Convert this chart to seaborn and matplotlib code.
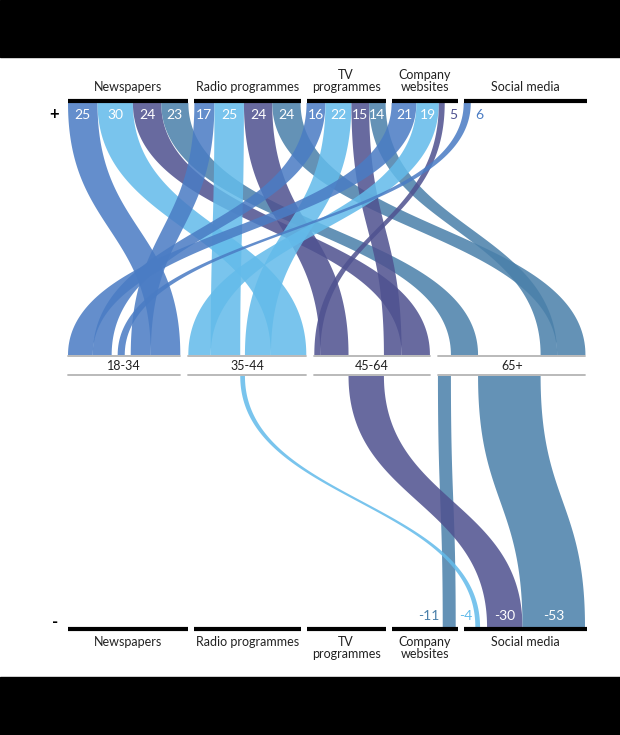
import numpy as np
import matplotlib.pyplot as plt
import seaborn as sns

sns.set_theme(style="white")
plt.rcParams['font.family'] = ['Lato', 'DejaVu Sans']

# Data
media = ['Newspapers', 'Radio programmes', 'TV\nprogrammes', 'Company\nwebsites', 'Social media']
ages = ['18-34', '35-44', '45-64', '65+']
# rows = media, columns = age groups
positive = [[25, 30, 24, 23],
            [17, 25, 24, 24],
            [16, 22, 15, 14],
            [21, 19, 5, 0],
            [6, 0, 0, 0]]
negative = [[0, 0, 0, 0],
            [0, 0, 0, 0],
            [0, 0, 0, 0],
            [0, 0, 0, -11],
            [0, -4, -30, -53]]
age_colors = sns.color_palette(['#4a7cc4', '#63bbea', '#4f5290', '#4a80aa'])

# order of the flows inside each age band (medium index, sign), None = small gap
mid_order = [
    [(3, 1), (2, 1), None, (4, 1), None, (1, 1), (0, 1)],
    [(3, 1), (1, 1), (4, -1), (2, 1), (0, 1)],
    [(3, 1), (1, 1), (4, -1), (2, 1), (0, 1)],
    [(3, -1), (0, 1), (4, -1), (2, 1), (1, 1)],
]

pos = np.array(positive)
neg = -np.array(negative)

# layout (pixel space)
K = 1.18
X0, X1 = 68, 587
Y_TOP, Y_MID_A, Y_MID_B, Y_BOT = 103, 355, 376, 627
COL_GAP, BAND_GAP, IN_GAP = 6, 8, 6

fig = plt.figure(figsize=(6.2, 7.35), dpi=100)
ax = fig.add_axes([0, 0, 1, 1])
ax.set_xlim(0, 620)
ax.set_ylim(735, 0)
ax.axis('off')
ax.axhspan(0, 57, color='black', zorder=0)
ax.axhspan(677, 735, color='black', zorder=0)


def ribbon(xa0, xa1, ya, xb0, xb1, yb, color, z):
    # cubic bezier edges, vertical at both ends
    t = np.linspace(0, 1, 120)
    b0 = (1 - t) ** 3 + 3 * t * (1 - t) ** 2
    b1 = 3 * t ** 2 * (1 - t) + t ** 3
    ym = (ya + yb) / 2
    y = ya * (1 - t) ** 3 + ym * 3 * t * (1 - t) + yb * t ** 3
    left = xa0 * b0 + xb0 * b1
    right = xa1 * b0 + xb1 * b1
    ax.fill(np.concatenate([left, right[::-1]]), np.concatenate([y, y[::-1]]),
            color=color, alpha=0.86, lw=0, zorder=z)


# media columns (top and bottom)
col_start, col_end = [], []
x = X0
for m in range(len(media)):
    w = (pos[m].sum() + neg[m].sum()) * K
    col_start.append(x)
    col_end.append(x + w)
    x += w + COL_GAP
col_end[-1] = X1

# top slots: positives left-aligned in age order
top_slot = {}
for m in range(len(media)):
    x = col_start[m]
    for a in range(len(ages)):
        if pos[m, a] > 0:
            top_slot[(m, a)] = (x, x + pos[m, a] * K)
            x += pos[m, a] * K

# bottom slots: negatives right-aligned
bot_slot = {}
for m in range(len(media)):
    x = col_end[m] - 2
    for a in reversed(range(len(ages))):
        if neg[m, a] > 0:
            w = neg[m, a] * K
            if neg[m, a] < 8:
                x -= 7
            bot_slot[(m, a)] = (x - w, x)
            x -= w

# middle bands
mid_slot = {}
band_ext = []
x = X0
for a, order in enumerate(mid_order):
    start = x
    for item in order:
        if item is None:
            x += IN_GAP
            continue
        m, s = item
        v = pos[m, a] if s > 0 else neg[m, a]
        mid_slot[(m, a, s)] = (x, x + v * K)
        x += v * K
    band_ext.append((start, x))
    x += BAND_GAP

# draw flows
z = 2
for m in range(len(media)):
    for a in range(len(ages)):
        if (m, a) in top_slot:
            xa0, xa1 = top_slot[(m, a)]
            xb0, xb1 = mid_slot[(m, a, 1)]
            ribbon(xa0, xa1, Y_TOP, xb0, xb1, Y_MID_A, age_colors[a], z)
            z += 1
for m in range(len(media)):
    for a in range(len(ages)):
        if (m, a) in bot_slot:
            xa0, xa1 = mid_slot[(m, a, -1)]
            xb0, xb1 = bot_slot[(m, a)]
            ribbon(xa0, xa1, Y_MID_B, xb0, xb1, Y_BOT, age_colors[a], z)

# value labels
for (m, a), (xa0, xa1) in top_slot.items():
    v = pos[m, a]
    if v >= 10:
        ax.text((xa0 + xa1) / 2, Y_TOP + 12, str(v), color='white', fontsize=10,
                ha='center', va='center', zorder=50)
    else:
        ax.text(xa1 + 4, Y_TOP + 12, str(v), color=age_colors[a], fontsize=10,
                ha='left', va='center', zorder=50)
for (m, a), (xb0, xb1) in bot_slot.items():
    v = -neg[m, a]
    if neg[m, a] >= 20:
        ax.text((xb0 + xb1) / 2, Y_BOT - 11, str(v), color='white', fontsize=10,
                ha='center', va='center', zorder=50)
    else:
        ax.text(xb0 - 3, Y_BOT - 11, str(v), color=age_colors[a], fontsize=10,
                ha='right', va='center', zorder=50)

# column lines and names
for m, name in enumerate(media):
    ax.plot([col_start[m], col_end[m]], [101, 101], color='black', lw=3, solid_capstyle='butt', zorder=60)
    ax.plot([col_start[m], col_end[m]], [629, 629], color='black', lw=3, solid_capstyle='butt', zorder=60)
    cx = (col_start[m] + col_end[m]) / 2
    ax.text(cx, 93, name, ha='center', va='bottom', fontsize=9, linespacing=1.0, color='#222222')
    ax.text(cx, 636, name, ha='center', va='top', fontsize=9, linespacing=1.0, color='#222222')

# age bands
for a, (s, e) in enumerate(band_ext):
    ax.plot([s, e], [356, 356], color='#b4b4b4', lw=1.3, zorder=60)
    ax.plot([s, e], [375, 375], color='#b4b4b4', lw=1.3, zorder=60)
    ax.text((s + e) / 2, 366, ages[a], ha='center', va='center', fontsize=9, color='#222222')

ax.text(54, 114, '+', ha='center', va='center', fontsize=12, fontweight='bold', color='black')
ax.text(55, 622, '-', ha='center', va='center', fontsize=12, fontweight='bold', color='black')

fig.savefig('out.png', dpi=100)
